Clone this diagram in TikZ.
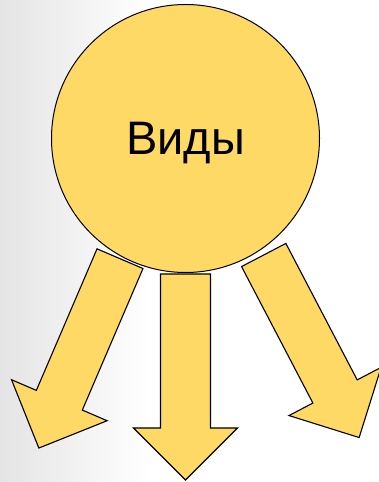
\documentclass[tikz,border=0pt]{standalone}
\usepackage{fontspec}
\setmainfont{Liberation Sans}
\usepackage{xcolor}
\usepackage{tikz}
\usetikzlibrary{positioning}
\definecolor{ink}{HTML}{000000}
\definecolor{sun}{HTML}{FFD966}
\definecolor{haze}{HTML}{E4E4E4}
\tikzset{
  hub/.style        = {circle, draw=ink, line width=1pt, fill=sun, inner sep=0pt,
                       minimum size=268pt, text depth=0pt, font=\fontsize{47}{56}\selectfont},
  arrowbody/.style  = {draw=ink, line width=1.1pt, fill=sun, line join=miter},
  blockarrow/.pic   = {\path[arrowbody] (-25,0) -- (25,0) -- (25,-154) -- (52,-154)
                       -- (0,-206) -- (-52,-154) -- (-25,-154) -- cycle;},
}

\begin{document}
\begin{tikzpicture}[x=1pt, y=1pt]
  \fill[white] (0,0) rectangle (379,482);
  \shade[left color=haze, right color=white] (0,0) rectangle (150,482);
  \useasboundingbox (0,0) rectangle (379,482);

  \coordinate (leftfoot)  at (120,223.3);
  \coordinate (midfoot)   at (185.5,208);
  \coordinate (rightfoot) at (263.7,227);

  \pic[rotate=-23.2] at (leftfoot)  {blockarrow};
  \pic               at (midfoot)   {blockarrow};
  \pic[rotate=27.6]  at (rightfoot) {blockarrow};

  \node[hub] (vidy) at (185.5,343.5) {Виды};
\end{tikzpicture}
\end{document}
